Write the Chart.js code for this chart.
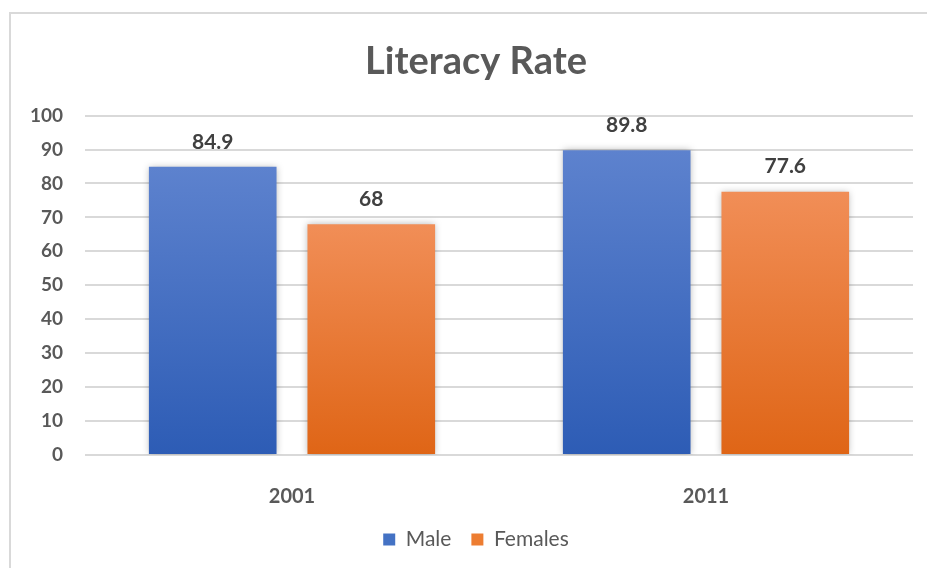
<!DOCTYPE html>
<html>
<head>
<meta charset="utf-8">
<script src="https://cdn.jsdelivr.net/npm/chart.js@4.4.1/dist/chart.umd.min.js"></script>
<style>
  html, body { margin: 0; padding: 0; background: #fff; }
  .frame {
    position: absolute; left: 9px; top: 12px; width: 930px; height: 570px;
    border-left: 2px solid #d9d9d9; border-top: 2px solid #d9d9d9;
  }
  .wrap { position: absolute; left: 0; top: 0; width: 927px; height: 568px; }
</style>
</head>
<body>
<div class="frame"></div>
<div class="wrap"><canvas id="literacyChart"></canvas></div>
<script>
const years = ['2001', '2011']
const maleRates = [84.9, 89.8]
const femaleRates = [68, 77.6]
const yTicks = [0, 10, 20, 30, 40, 50, 60, 70, 80, 90, 100]

const FONT = 'Lato, "Open Sans", "Liberation Sans", sans-serif'

// per-bar vertical gradient, lighter at the top like the office theme
const barGradient = (top, bottom) => (ctx) => {
    const chart = ctx.chart
    if (!chart.chartArea || ctx.type !== 'data') return bottom
    const y = chart.scales.y
    const yTop = y.getPixelForValue(ctx.raw)
    const yBase = y.getPixelForValue(0)
    const g = chart.ctx.createLinearGradient(0, yTop, 0, yBase)
    g.addColorStop(0, top)
    g.addColorStop(1, bottom)
    return g
}

const barShadow = {
    id: 'barShadow',
    beforeDatasetsDraw(chart) {
        const c = chart.ctx
        c.save()
        c.shadowColor = 'rgba(0, 0, 0, 0.28)'
        c.shadowBlur = 7
    },
    afterDatasetsDraw(chart) {
        chart.ctx.restore()
    }
}

const valueLabels = {
    id: 'valueLabels',
    afterDatasetsDraw(chart) {
        const c = chart.ctx
        c.save()
        c.font = 'bold 21px ' + FONT
        c.fillStyle = '#404040'
        c.textAlign = 'center'
        c.textBaseline = 'middle'
        chart.data.datasets.forEach((ds, i) => {
            chart.getDatasetMeta(i).data.forEach((bar, j) => {
                c.fillText(String(ds.data[j]), bar.x, bar.y - 25)
            })
        })
        c.restore()
    }
}

new Chart(document.getElementById('literacyChart'), {
    type: 'bar',
    data: {
        labels: years,
        datasets: [
            {
                label: 'Male',
                data: maleRates,
                backgroundColor: barGradient('#5d82ce', '#2d5cb5'),
                categoryPercentage: 0.766,
                barPercentage: 0.805
            },
            {
                label: 'Females',
                data: femaleRates,
                backgroundColor: barGradient('#f18e57', '#df6516'),
                categoryPercentage: 0.766,
                barPercentage: 0.805
            }
        ]
    },
    options: {
        responsive: true,
        maintainAspectRatio: false,
        animation: false,
        // the frame runs past the right edge, so title/legend centre sits right of the canvas centre
        layout: { padding: { top: 39, left: 0, right: -25, bottom: 8 } },
        plugins: {
            title: {
                display: true,
                text: 'Literacy Rate',
                color: '#595959',
                font: { family: FONT, size: 38, weight: 'bold' },
                padding: { top: 0, bottom: 31 }
            },
            legend: {
                position: 'bottom',
                labels: {
                    color: '#595959',
                    font: { family: FONT, size: 21 },
                    boxWidth: 12,
                    boxHeight: 12,
                    padding: 20,
                    generateLabels: (chart) => [
                        { text: 'Male', fillStyle: '#4472c4', strokeStyle: '#4472c4', lineWidth: 0, datasetIndex: 0, fontColor: '#595959' },
                        { text: 'Females', fillStyle: '#ed7d31', strokeStyle: '#ed7d31', lineWidth: 0, datasetIndex: 1, fontColor: '#595959' }
                    ]
                }
            },
            tooltip: { enabled: false }
        },
        scales: {
            x: {
                grid: { display: false },
                border: { display: false },
                ticks: {
                    color: '#595959',
                    font: { family: FONT, size: 20, weight: 'bold' },
                    padding: 22
                },
                afterFit: (s) => { s.height = 54 }
            },
            y: {
                min: 0,
                max: 100,
                afterBuildTicks: (s) => { s.ticks = yTicks.map(v => ({ value: v })) },
                grid: { color: '#d9d9d9', lineWidth: 2, drawTicks: false },
                border: { display: false },
                ticks: {
                    color: '#595959',
                    font: { family: FONT, size: 19, weight: 'bold' },
                    padding: 22
                },
                afterFit: (s) => { s.width = 85 }
            },
            // empty right-hand spacer that stops the plot at the reference's right edge
            yRight: {
                position: 'right',
                min: 0,
                max: 100,
                grid: { display: false, drawTicks: false },
                border: { display: false },
                ticks: { display: false },
                afterFit: (s) => { s.width = 39 }
            }
        }
    },
    plugins: [barShadow, valueLabels]
})
</script>
</body>
</html>
